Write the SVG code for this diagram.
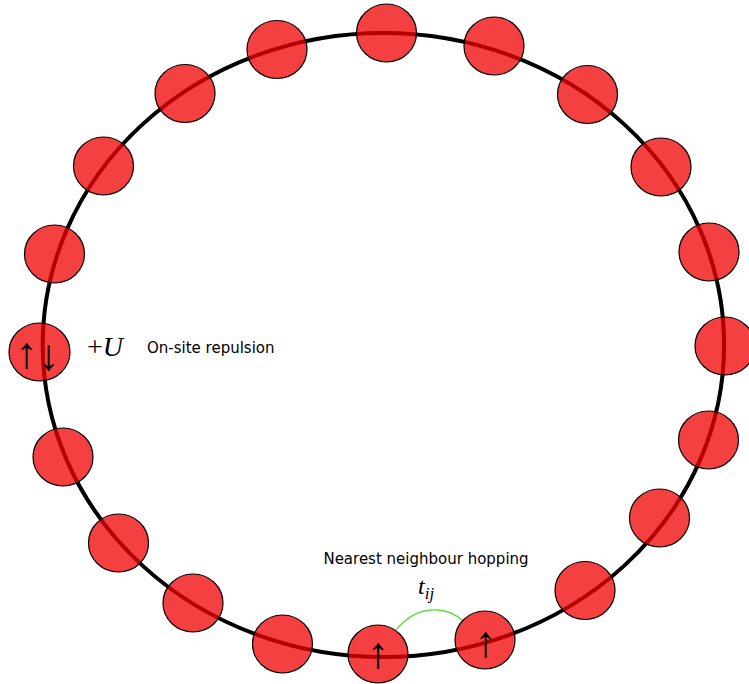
<svg xmlns="http://www.w3.org/2000/svg" width="749" height="684" viewBox="0 0 749 684">
<style>
.site{fill:#f00000;fill-opacity:0.75;stroke:#000;stroke-width:1.2}
.lbl{font-family:"DejaVu Sans",sans-serif;font-size:15px;fill:#000}
.math{font-family:"Liberation Serif",serif;font-style:italic;fill:#000}
.arr{font-family:"Liberation Serif","DejaVu Serif",serif;font-size:44px;fill:#000}
</style>
<rect width="749" height="684" fill="#fff"/>
<g id="connectors">
<ellipse id="ring" cx="383.4" cy="345" rx="340.7" ry="312" fill="none" stroke="#000" stroke-width="4"/>
<path id="hop" d="M396 630 C415 606 445 604 463 621" fill="none" stroke="#44dd22" stroke-width="1.2"/>
</g>
<g id="site1"><ellipse class="site" cx="386.5" cy="33" rx="30" ry="29"/></g>
<g id="site2"><ellipse class="site" cx="494" cy="46" rx="30" ry="29"/></g>
<g id="site3"><ellipse class="site" cx="587.5" cy="94.5" rx="30" ry="29"/></g>
<g id="site4"><ellipse class="site" cx="661" cy="167" rx="30" ry="29"/></g>
<g id="site5"><ellipse class="site" cx="709" cy="252" rx="30" ry="29"/></g>
<g id="site6"><ellipse class="site" cx="725" cy="346" rx="30" ry="29"/></g>
<g id="site7"><ellipse class="site" cx="708.5" cy="440" rx="30" ry="29"/></g>
<g id="site8"><ellipse class="site" cx="659.5" cy="518" rx="30" ry="29"/></g>
<g id="site9"><ellipse class="site" cx="585" cy="590.5" rx="30" ry="29"/></g>
<g id="site10"><ellipse class="site" cx="485" cy="640" rx="30" ry="29"/>
<text class="arr" x="485.5" y="657" text-anchor="middle">↑</text></g>
<g id="site11"><ellipse class="site" cx="378" cy="654" rx="30" ry="29"/>
<text class="arr" x="378" y="668" text-anchor="middle">↑</text></g>
<g id="site12"><ellipse class="site" cx="282.5" cy="644" rx="30" ry="29"/></g>
<g id="site13"><ellipse class="site" cx="193" cy="603" rx="30" ry="29"/></g>
<g id="site14"><ellipse class="site" cx="118.5" cy="543" rx="30" ry="29"/></g>
<g id="site15"><ellipse class="site" cx="63" cy="457" rx="30" ry="29"/></g>
<g id="site16"><ellipse class="site" cx="39.5" cy="352" rx="30.5" ry="29"/>
<text class="arr" text-anchor="middle"><tspan x="26.5" y="368">↑</tspan><tspan x="48.5" y="370">↓</tspan></text></g>
<g id="site17"><ellipse class="site" cx="54.5" cy="254" rx="30" ry="29"/></g>
<g id="site18"><ellipse class="site" cx="103.5" cy="166" rx="30" ry="29"/></g>
<g id="site19"><ellipse class="site" cx="185" cy="93.5" rx="30" ry="29"/></g>
<g id="site20"><ellipse class="site" cx="277" cy="49.5" rx="30" ry="29"/></g>
<g id="labels">
<text class="math" x="87" y="356" font-size="28"><tspan font-style="normal">+</tspan>U</text>
<text class="lbl" x="147" y="353">On-site repulsion</text>
<text class="lbl" x="426" y="564" text-anchor="middle">Nearest neighbour hopping</text>
<text class="math" x="418" y="594" font-size="24">t<tspan font-size="17" dy="5">ij</tspan></text>
</g>
</svg>
